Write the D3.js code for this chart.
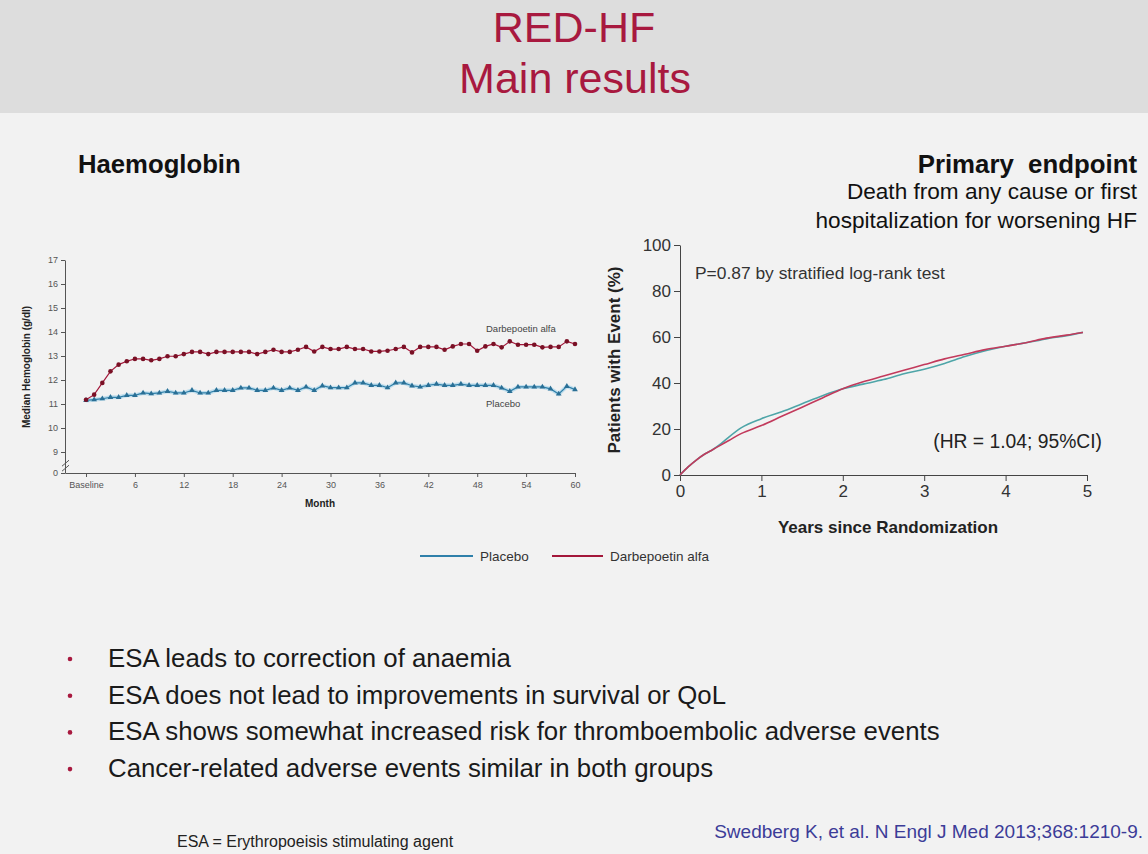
<!DOCTYPE html>
<html><head><meta charset="utf-8">
<script src="https://cdn.jsdelivr.net/npm/d3@7"></script>
<style>
body{margin:0;background:#f2f2f2;}
svg{display:block;font-family:"Liberation Sans",Arial,sans-serif;}
</style>
</head><body><svg id="c" width="1148" height="854"></svg>
<script>
// ---------- data ----------
const months = d3.range(0, 61);
const darbepoetinHb = [11.18,11.39,11.88,12.36,12.64,12.78,12.88,12.88,12.82,12.88,
  12.99,12.99,13.08,13.17,13.17,13.08,13.17,13.17,13.17,13.17,
  13.17,13.08,13.17,13.26,13.17,13.17,13.26,13.38,13.19,13.38,
  13.29,13.29,13.38,13.29,13.29,13.19,13.19,13.22,13.29,13.38,
  13.15,13.38,13.38,13.38,13.26,13.40,13.50,13.50,13.22,13.40,
  13.50,13.36,13.61,13.47,13.47,13.47,13.36,13.38,13.38,13.61,13.50];
const placeboHb = [11.15,11.18,11.22,11.28,11.28,11.36,11.36,11.46,11.43,11.46,
  11.53,11.46,11.46,11.57,11.46,11.46,11.57,11.57,11.57,11.67,
  11.67,11.57,11.57,11.67,11.57,11.67,11.57,11.71,11.57,11.76,
  11.68,11.68,11.68,11.88,11.88,11.78,11.78,11.68,11.88,11.88,
  11.76,11.71,11.78,11.83,11.78,11.78,11.83,11.78,11.78,11.78,
  11.78,11.67,11.53,11.71,11.71,11.71,11.71,11.63,11.42,11.74,11.60];
const hbTicks = [0,9,10,11,12,13,14,15,16,17];
const monthTicks = [0,6,12,18,24,30,36,42,48,54,60];
const monthTickLabels = ["Baseline","6","12","18","24","30","36","42","48","54","60"];

const kmYears =        [0,0.1,0.2,0.3,0.4,0.5,0.6,0.75,1,1.25,1.5,1.75,2,2.25,2.5,2.75,3,3.25,3.5,3.75,4,4.25,4.5,4.75,4.95];
const kmDarbepoetin =  [0,3.5,6.5,9,11,13,15,18,21.5,25.5,29.5,33.5,37.5,40.5,43,45.5,48,50.5,52.5,54.5,56,57.5,59.5,60.8,62];
const kmPlacebo =      [0,3.5,6.5,9,11,13.5,16.5,20.5,24.5,27.5,31,34.5,37.5,39.5,41.5,44,46,48.5,51.5,54,56,57.5,59.2,60.6,62];
const pctTicks = [0,20,40,60,80,100];
const yearTicks = [0,1,2,3,4,5];

const bullets = [
  "ESA leads to correction of anaemia",
  "ESA does not lead to improvements in survival or QoL",
  "ESA shows somewhat increased risk for thromboembolic adverse events",
  "Cancer-related adverse events similar in both groups"
];

// ---------- colours ----------
const cRedL = "#a3173a", cBlueL = "#2f80aa";
const cRedR = "#c23a5c", cTealR = "#4ea5a8";
const crimson = "#a8193f";

const svg = d3.select("#c");

// background & title band
svg.append("rect").attr("width",1148).attr("height",854).attr("fill","#f2f2f2");
svg.append("rect").attr("width",1148).attr("height",113).attr("fill","#dddddd");
svg.append("text").attr("x",574).attr("y",42).attr("text-anchor","middle")
  .attr("font-size",43).attr("fill",crimson).text("RED-HF");
svg.append("text").attr("x",575).attr("y",93).attr("text-anchor","middle")
  .attr("font-size",43).attr("fill",crimson).text("Main results");

// headings
svg.append("text").attr("x",78).attr("y",173).attr("font-size",25.7).attr("font-weight","bold")
  .attr("fill","#111").text("Haemoglobin");
svg.append("text").attr("x",1137).attr("y",173).attr("text-anchor","end").attr("font-size",25.8)
  .attr("font-weight","bold").attr("fill","#111").attr("xml:space","preserve").text("Primary  endpoint");
svg.append("text").attr("x",1137).attr("y",199).attr("text-anchor","end").attr("font-size",22.6)
  .attr("fill","#111").text("Death from any cause or first");
svg.append("text").attr("x",1137).attr("y",228).attr("text-anchor","end").attr("font-size",22.6)
  .attr("fill","#111").text("hospitalization for worsening HF");

// ---------- left chart ----------
const axisCol = "#555";
const xM = d3.scaleLinear().domain([-2.58,60]).range([65,575]);
const yH = d3.scaleLinear().domain([0,9,17]).range([473,452,260]);

const gL = svg.append("g");
const yAxL = gL.append("g").attr("transform","translate(65,0)")
  .call(d3.axisLeft(yH).tickValues(hbTicks).tickSize(4).tickSizeOuter(0));
yAxL.selectAll("text").attr("font-size",9).attr("fill","#555");
yAxL.selectAll("line,path").attr("stroke",axisCol);
const xAxL = gL.append("g").attr("transform","translate(0,473)")
  .call(d3.axisBottom(xM).tickValues(monthTicks).tickSize(4).tickSizeOuter(0)
    .tickFormat((d,i)=>monthTickLabels[i]));
xAxL.selectAll("text").attr("font-size",9).attr("fill","#555").attr("dy","0.9em");
xAxL.selectAll("line,path").attr("stroke",axisCol);
// axis break marks
[0,5].forEach(o=>{
  gL.append("line").attr("x1",62).attr("x2",69).attr("y1",yH(4.2)+o+3).attr("y2",yH(4.2)+o-3)
    .attr("stroke",axisCol).attr("stroke-width",1);
});
gL.append("text").attr("x",320).attr("y",507).attr("text-anchor","middle").attr("font-size",10)
  .attr("font-weight","bold").attr("fill","#222").text("Month");
gL.append("text").attr("transform","translate(30,367) rotate(-90)").attr("text-anchor","middle")
  .attr("font-size",10).attr("font-weight","bold").attr("fill","#222").text("Median Hemoglobin (g/dl)");

const lineH = d3.line().x((d,i)=>xM(months[i])).y(d=>yH(d));
gL.append("path").datum(placeboHb).attr("d",lineH).attr("fill","none")
  .attr("stroke","#9fd0ea").attr("stroke-width",4).attr("opacity",0.6);
gL.append("path").datum(placeboHb).attr("d",lineH).attr("fill","none")
  .attr("stroke",cBlueL).attr("stroke-width",1.2);
gL.append("path").datum(darbepoetinHb).attr("d",lineH).attr("fill","none")
  .attr("stroke",cRedL).attr("stroke-width",1.2);
gL.selectAll(".tri").data(placeboHb).join("path").attr("class","tri")
  .attr("d",d3.symbol(d3.symbolTriangle,14))
  .attr("transform",(d,i)=>`translate(${xM(months[i])},${yH(d)})`).attr("fill","#2a6f95");
gL.selectAll(".dot").data(darbepoetinHb).join("circle").attr("class","dot")
  .attr("cx",(d,i)=>xM(months[i])).attr("cy",d=>yH(d)).attr("r",2.3).attr("fill","#7a1025");
gL.append("text").attr("x",486).attr("y",332).attr("font-size",9.5).attr("fill","#444").text("Darbepoetin alfa");
gL.append("text").attr("x",486).attr("y",407).attr("font-size",9.5).attr("fill","#444").text("Placebo");

// ---------- right chart ----------
const xY = d3.scaleLinear().domain([0,5]).range([680,1087]);
const yP = d3.scaleLinear().domain([0,100]).range([475,245]);
const gR = svg.append("g");
const yAxR = gR.append("g").attr("transform","translate(680,0)")
  .call(d3.axisLeft(yP).tickValues(pctTicks).tickSize(6).tickSizeOuter(0).tickPadding(3));
yAxR.selectAll("text").attr("font-size",17).attr("fill","#333");
yAxR.selectAll("line,path").attr("stroke","#444");
const xAxR = gR.append("g").attr("transform","translate(0,475)")
  .call(d3.axisBottom(xY).tickValues(yearTicks).tickFormat(d3.format("d"))
    .tickSize(6).tickSizeOuter(0).tickPadding(4));
xAxR.selectAll("text").attr("font-size",17).attr("fill","#333");
xAxR.selectAll("line,path").attr("stroke","#444");
gR.append("text").attr("transform","translate(620,360) rotate(-90)").attr("text-anchor","middle")
  .attr("font-size",17).attr("font-weight","bold").attr("fill","#222").text("Patients with Event (%)");
gR.append("text").attr("x",888).attr("y",533).attr("text-anchor","middle")
  .attr("font-size",17).attr("font-weight","bold").attr("fill","#222").text("Years since Randomization");
gR.append("text").attr("x",695).attr("y",279).attr("font-size",17.4).attr("fill","#333")
  .text("P=0.87 by stratified log-rank test");
gR.append("text").attr("x",1102).attr("y",448).attr("text-anchor","end").attr("font-size",19.3)
  .attr("fill","#222").text("(HR = 1.04; 95%CI)");

const lineK = d3.line().x((d,i)=>xY(kmYears[i])).y(d=>yP(d)).curve(d3.curveMonotoneX);
gR.append("path").datum(kmPlacebo).attr("d",lineK).attr("fill","none")
  .attr("stroke",cTealR).attr("stroke-width",1.6);
gR.append("path").datum(kmDarbepoetin).attr("d",lineK).attr("fill","none")
  .attr("stroke",cRedR).attr("stroke-width",1.6);

// ---------- legend ----------
const lg = svg.append("g");
lg.append("line").attr("x1",420).attr("x2",473).attr("y1",556).attr("y2",556).attr("stroke",cBlueL).attr("stroke-width",2);
lg.append("text").attr("x",480).attr("y",561).attr("font-size",13.5).attr("fill","#333").text("Placebo");
lg.append("line").attr("x1",552).attr("x2",603).attr("y1",556).attr("y2",556).attr("stroke",cRedL).attr("stroke-width",2);
lg.append("text").attr("x",610).attr("y",561).attr("font-size",13.5).attr("fill","#333").text("Darbepoetin alfa");

// ---------- bullets ----------
const bg = svg.append("g");
bullets.forEach((t,i)=>{
  const y = 667 + i*36.7;
  bg.append("circle").attr("cx",70).attr("cy",y-8).attr("r",2.3).attr("fill",crimson);
  bg.append("text").attr("x",108).attr("y",y).attr("font-size",25.8).attr("fill","#1a1a1a").text(t);
});

// ---------- footer ----------
svg.append("text").attr("x",177).attr("y",847).attr("font-size",16).attr("fill","#222")
  .text("ESA = Erythropoeisis stimulating agent");
svg.append("text").attr("x",1143).attr("y",838).attr("text-anchor","end").attr("font-size",19)
  .attr("fill","#3c3c98").text("Swedberg K, et al. N Engl J Med 2013;368:1210-9.");
</script>
</body></html>
